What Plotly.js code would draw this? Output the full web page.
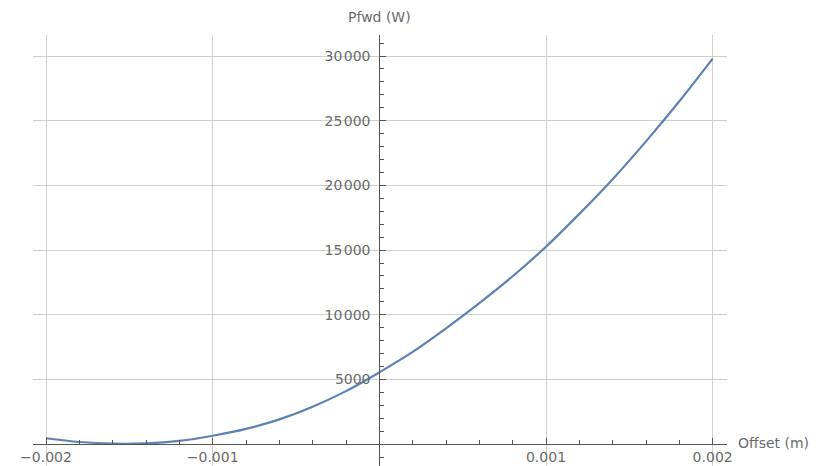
<!DOCTYPE html>
<html>
<head>
<meta charset="utf-8">
<script src="https://cdn.plot.ly/plotly-3.0.1.min.js"></script>
<style>html,body{margin:0;padding:0;background:#fff;}#chart{width:820px;height:466px;}</style>
</head>
<body>
<div id="chart"></div>
<script>
// Data
const offset = [-0.002, -0.0018, -0.0016, -0.0014, -0.0012, -0.001, -0.0008, -0.0006, -0.0004, -0.0002, 0,
                 0.0002, 0.0004, 0.0006, 0.0008, 0.001, 0.0012, 0.0014, 0.0016, 0.0018, 0.002];
const pfwd = [460, 170, 40, 60, 250, 650, 1180, 1920, 2900, 4100, 5550,
              7130, 8950, 10900, 12980, 15260, 17800, 20480, 23400, 26500, 29800];

const xTickVals = [-0.002, -0.001, 0.001, 0.002];
const xTickText = ["\u22120.002", "\u22120.001", "0.001", "0.002"];
const yTickVals = [5000, 10000, 15000, 20000, 25000, 30000];
const yTickText = ["5000", "10\u200A000", "15\u200A000", "20\u200A000", "25\u200A000", "30\u200A000"];

const xTitle = "Offset (m)";
const yTitle = "Pfwd (W)";

const xRange = [-0.002078, 0.002086];
const yRange = [-1685, 31623];

const tickFont = {family: "DejaVu Sans, sans-serif", size: 14, color: "#6a6a6a"};

const trace = {
  x: offset, y: pfwd, type: "scatter", mode: "lines",
  line: {color: "#5E81B5", width: 2.2, shape: "spline", smoothing: 1},
  hoverinfo: "skip"
};

const layout = {
  width: 820, height: 466,
  margin: {l: 33, r: 93, t: 35, b: 0, pad: 0},
  paper_bgcolor: "#ffffff", plot_bgcolor: "#ffffff",
  showlegend: false,
  xaxis: {
    range: xRange, anchor: "free",
    position: (0 - yRange[0]) / (yRange[1] - yRange[0]),
    tickmode: "array", tickvals: xTickVals, ticktext: xTickText,
    ticks: "inside", ticklen: 6, tickwidth: 1, tickcolor: "#555555",
    minor: {dtick: 0.0002, tick0: 0, ticks: "inside", ticklen: 4, tickwidth: 1, tickcolor: "#555555", showgrid: false},
    showline: true, linecolor: "#555555", linewidth: 1,
    showgrid: true, gridcolor: "#cfcfcf", gridwidth: 1,
    zeroline: false, tickfont: tickFont, ticklabelstandoff: 0
  },
  yaxis: {
    range: yRange, anchor: "free",
    position: (0 - xRange[0]) / (xRange[1] - xRange[0]),
    tickmode: "array", tickvals: yTickVals, ticktext: yTickText,
    ticks: "inside", ticklen: 6, tickwidth: 1, tickcolor: "#555555",
    minor: {dtick: 1000, tick0: 0, ticks: "inside", ticklen: 4, tickwidth: 1, tickcolor: "#555555", showgrid: false},
    showline: true, linecolor: "#555555", linewidth: 1,
    showgrid: true, gridcolor: "#cfcfcf", gridwidth: 1,
    zeroline: false, tickfont: tickFont, ticklabelstandoff: 6
  },
  annotations: [
    {text: yTitle, xref: "x", x: 0, yref: "paper", y: 1, xanchor: "center", yanchor: "bottom",
     yshift: 8, showarrow: false, font: tickFont},
    {text: xTitle, xref: "paper", x: 1, yref: "y", y: 0, xanchor: "left", yanchor: "middle",
     xshift: 9, yshift: 1, showarrow: false, font: tickFont}
  ]
};

Plotly.newPlot("chart", [trace], layout, {staticPlot: true, displayModeBar: false});
</script>
</body>
</html>
